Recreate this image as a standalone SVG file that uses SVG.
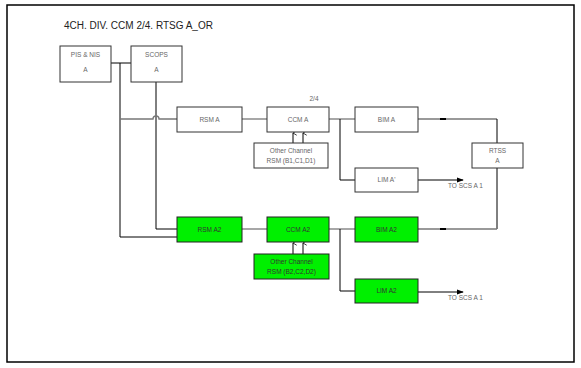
<svg xmlns="http://www.w3.org/2000/svg" width="581" height="368" viewBox="0 0 581 368">
<style>
.box{fill:#fff;stroke:#333;stroke-width:1}
.g{fill:#00f000;stroke:#222;stroke-width:1}
.t{font-family:"Liberation Sans",Arial,sans-serif;font-size:6.5px;fill:#666;text-anchor:middle}
.gt{fill:#333}
.w{stroke:#000;stroke-width:1;fill:none}
.gr{stroke:#777;stroke-width:1.3;fill:none}
</style>
<defs>
<marker id="ah" viewBox="0 0 8 8" refX="7" refY="4" markerWidth="7" markerHeight="7" orient="auto" markerUnits="userSpaceOnUse"><path d="M0,1 L8,4 L0,7 Z" fill="#000"/></marker>
<marker id="oh" viewBox="0 0 8 8" refX="4" refY="1" markerWidth="6" markerHeight="6" orient="auto-start-reverse" markerUnits="userSpaceOnUse"><path d="M1,6 L4,1 L7,6" fill="none" stroke="#000"/></marker>
</defs>
<rect x="0" y="0" width="581" height="368" fill="#fff"/>
<rect x="7" y="5" width="567" height="357" fill="none" stroke="#000" stroke-width="1.5"/>
<text x="64" y="29" font-family="Liberation Sans,Arial,sans-serif" font-size="10" fill="#222">4CH. DIV. CCM 2/4. RTSG A_OR</text>
<g id="connectors">
<path class="w" d="M111,63 H131"/>
<path class="w" d="M120,63 V237 H177"/>
<path class="w" d="M156,82 V229 H177"/>
<path class="gr" d="M120,119 H153 A3,3 0 0 1 159,119 H177"/>
<path class="gr" d="M242,119 H267"/>
<path class="gr" d="M329,119 H355"/>
<path class="w" d="M340,119 V180 H355"/>
<path class="gr" d="M242,229 H267"/>
<path class="gr" d="M329,229 H355"/>
<path class="w" d="M340,229 V291 H355"/>
<path class="gr" d="M418,119 H497"/>
<path class="w" d="M497,119 V143"/>
<path class="w" d="M497,168 V229"/>
<path class="gr" d="M418,229 H497"/>
<path stroke="#000" stroke-width="2" d="M440,119 H446 M440,229 H446"/>
<path class="w" d="M418,180 H463" marker-end="url(#ah)"/>
<path class="w" d="M418,292 H463" marker-end="url(#ah)"/>
<path class="w" d="M293,143 V133" marker-end="url(#oh)"/>
<path class="w" d="M303,143 V133" marker-end="url(#oh)"/>
<path class="w" d="M293,254 V243" marker-end="url(#oh)"/>
<path class="w" d="M303,254 V243" marker-end="url(#oh)"/>
</g>
<text class="t" x="448" y="188" text-anchor="start" style="text-anchor:start">TO SCS A  1</text>
<text class="t" x="448" y="300" style="text-anchor:start">TO SCS A  1</text>
<text class="t" x="314" y="101">2/4</text>
<g id="pis"><rect class="box" x="60" y="46" width="51" height="36"/><text class="t" x="85.5" y="57">PIS &amp; NIS</text><text class="t" x="85.5" y="72">A</text></g>
<g id="scops"><rect class="box" x="131" y="46" width="51" height="36"/><text class="t" x="156.5" y="57">SCOPS</text><text class="t" x="156.5" y="72">A</text></g>
<g id="rsmA"><rect class="box" x="177" y="107" width="65" height="25"/><text class="t" x="209.5" y="122">RSM A</text></g>
<g id="ccmA"><rect class="box" x="267" y="107" width="62" height="25"/><text class="t" x="298" y="122">CCM A</text></g>
<g id="bimA"><rect class="box" x="355" y="107" width="63" height="25"/><text class="t" x="386.5" y="122">BIM A</text></g>
<g id="limA1"><rect class="box" x="355" y="168" width="63" height="24"/><text class="t" x="386.5" y="182">LIM A'</text></g>
<g id="oc1"><rect class="box" x="254" y="143" width="74" height="25"/><text class="t" x="291" y="153">Other Channel</text><text class="t" x="291" y="163">RSM (B1,C1,D1)</text></g>
<g id="rtss"><rect class="box" x="472" y="143" width="51" height="25"/><text class="t" x="497.5" y="153">RTSS</text><text class="t" x="497.5" y="163">A</text></g>
<g id="rsmA2"><rect class="g" x="177" y="217" width="65" height="25"/><text class="t gt" x="209.5" y="232">RSM A2</text></g>
<g id="ccmA2"><rect class="g" x="267" y="217" width="62" height="25"/><text class="t gt" x="298" y="232">CCM A2</text></g>
<g id="bimA2"><rect class="g" x="355" y="217" width="63" height="25"/><text class="t gt" x="386.5" y="232">BIM A2</text></g>
<g id="limA2"><rect class="g" x="355" y="279" width="63" height="24"/><text class="t gt" x="386.5" y="293">LIM A2</text></g>
<g id="oc2"><rect class="g" x="254" y="254" width="75" height="25"/><text class="t gt" x="291.5" y="264">Other Channel</text><text class="t gt" x="291.5" y="274">RSM (B2,C2,D2)</text></g>
</svg>
